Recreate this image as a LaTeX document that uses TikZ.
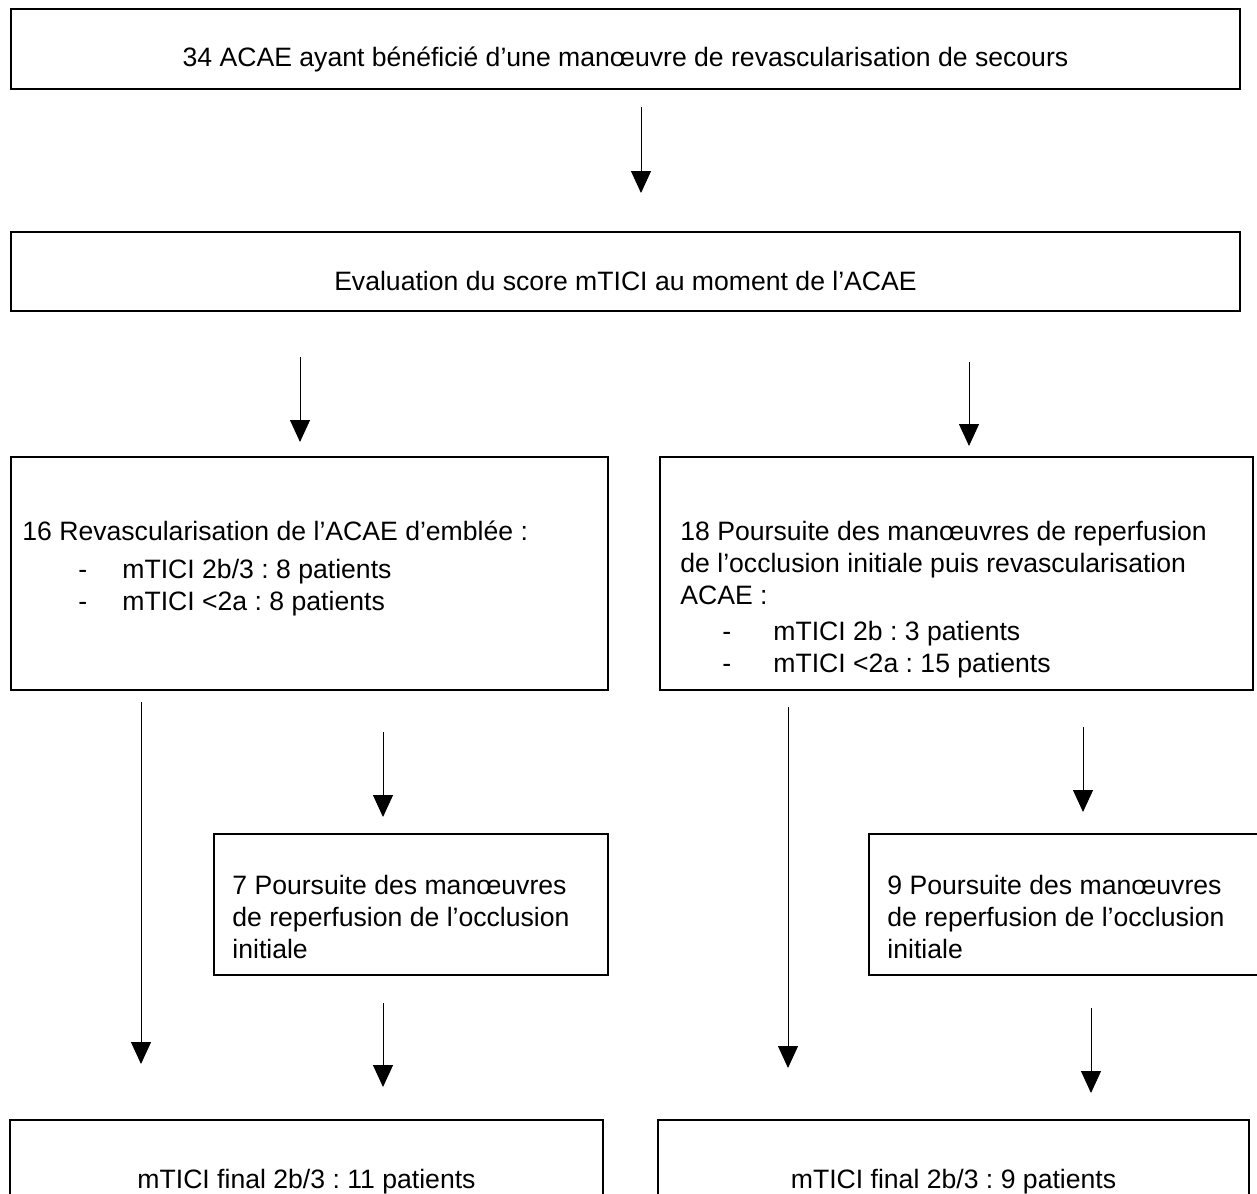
\documentclass[tikz,border=0pt]{standalone}
\usepackage{fontspec}
\setmainfont{Liberation Sans}
\usetikzlibrary{arrows.meta,fit}
\frenchspacing

\begin{document}
\begin{tikzpicture}
  [x=0.5pt, y=-0.5pt,
   box/.style={draw, line width=1pt, inner sep=0pt},
   txt/.style={inner sep=0pt, align=left, anchor=north west, font=\fontsize{13.3}{16}\selectfont},
   mid/.style={inner sep=0pt, anchor=base, font=\fontsize{13.3}{16}\selectfont},
   flow/.style={line width=0.5pt, -{Triangle[width=10pt,length=11pt]}}]

  \newcommand{\asc}{19.5}
  \newcommand{\dash}[1]{\makebox[#1pt][l]{-}}

  \clip (0,0) rectangle (1257,1193);

    % top of the chart
    \node[box, fit={(11,9) (1240,89)}] (all) {};
    \node[mid] (all-t) at (625.5,67) {34 ACAE ayant bénéficié d’une manœuvre de revascularisation de secours};

    \node[box, fit={(11,232) (1240,311)}] (eval) {};
    \node[mid] (eval-t) at (625.5,290) {Evaluation du score mTICI au moment de l’ACAE};

    \coordinate (a0) at (641,107);
    \coordinate (b0) at (641,193);
    \draw[flow] (a0) -- (b0);

    % left branch
    \begin{scope}
      \node[box, fit={(11,457) (608,690)}] (now) {};
      \node[txt] (now-t) at (22,540-\asc) {16 Revascularisation de l’ACAE d’emblée :};
      \node[txt] (now-l) at (78,578-\asc) {\dash{22}mTICI 2b/3 : 8 patients\\\dash{22}mTICI <2a : 8 patients};

      \node[box, fit={(214,834) (608,975)}] (more) {};
      \node[txt] (more-t) at (232,894-\asc) {7 Poursuite des manœuvres\\de reperfusion de l’occlusion\\initiale};

      \node[box, fit={(10,1120) (603,1230)}] (endl) {};
      \node[mid] (endl-t) at (306.5,1188) {mTICI final 2b/3 : 11 patients};

      \coordinate (a1) at (300,357);
      \coordinate (b1) at (300,442);
      \coordinate (a2) at (141,702);
      \coordinate (b2) at (141,1064);
      \coordinate (a3) at (383,732);
      \coordinate (b3) at (383,817);
      \coordinate (a4) at (383,1003);
      \coordinate (b4) at (383,1087);

      \draw[flow] (a1) -- (b1);
      \draw[flow] (a2) -- (b2);
      \draw[flow] (a3) -- (b3);
      \draw[flow] (a4) -- (b4);
    \end{scope}

    % right branch
    \begin{scope}
      \node[box, fit={(660,457) (1253,690)}] (later) {};
      \node[txt] (later-t) at (680,540-\asc) {18 Poursuite des manœuvres de reperfusion\\de l’occlusion initiale puis revascularisation\\ACAE :};
      \node[txt] (later-l) at (722,640-\asc) {\dash{25.5}mTICI 2b : 3 patients\\\dash{25.5}mTICI <2a : 15 patients};

      \node[box, fit={(869,834) (1290,975)}] (again) {};
      \node[txt] (again-t) at (887,894-\asc) {9 Poursuite des manœuvres\\de reperfusion de l’occlusion\\initiale};

      \node[box, fit={(658,1120) (1249,1230)}] (endr) {};
      \node[mid] (endr-t) at (953.5,1188) {mTICI final 2b/3 : 9 patients};

      \coordinate (a5) at (969,362);
      \coordinate (b5) at (969,446);
      \coordinate (a6) at (788,707);
      \coordinate (b6) at (788,1068);
      \coordinate (a7) at (1083,727);
      \coordinate (b7) at (1083,812);
      \coordinate (a8) at (1091,1008);
      \coordinate (b8) at (1091,1093);

      \draw[flow] (a5) -- (b5);
      \draw[flow] (a6) -- (b6);
      \draw[flow] (a7) -- (b7);
      \draw[flow] (a8) -- (b8);
    \end{scope}

  \end{tikzpicture}
\end{document}
